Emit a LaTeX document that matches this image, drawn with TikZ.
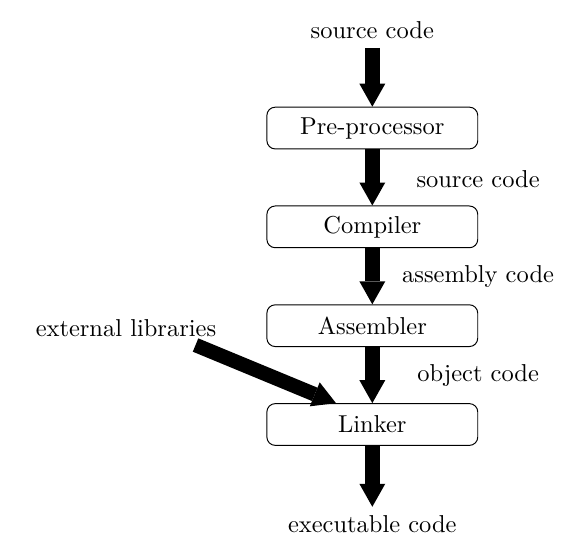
\documentclass[tikz,border=0pt]{standalone}
\usetikzlibrary{positioning, arrows.meta}
\begin{document}
\begin{tikzpicture}[
    % Styles
    stage/.style={% For the tool boxes
        rectangle,
        rounded corners=1.2mm,
        draw,
        minimum width=3.03cm,
        minimum height=0.6cm,
        },
    fatarrow/.style={% Thick black arrows
        line width=5.9pt,
        -{Triangle[length=9.4pt, width=10.6pt, line width=0pt]},
        },
    ]
\useasboundingbox (0,0) rectangle (8.32,8.03);

    % Draw the stages named pre, comp, asm, link
    \node [stage] (pre) at (5.35,6.19) {Pre-processor};
    \node [stage] (comp) at (5.35,4.77) {Compiler};
    \node [stage] (asm) at (5.35,3.35) {Assembler};
    \node [stage] (link) at (5.35,1.93) {Linker};

    % External input and output
    \node[] (src) at (5.35,7.59) {source code};
    \node[] (exe) at (5.35,0.50) {executable code};
    \node[] (extlib) at (1.81,3.32) {external libraries};

    % Labels on the internal arrows
    \node[] (srcl) at (6.87,5.45) {source code};
    \node[] (asml) at (6.87,4.05) {assembly code};
    \node[] (objl) at (6.87,2.63) {object code};

% Connect all
    \draw [fatarrow] (src) -- (pre);
    \draw [fatarrow] (pre) -- (comp);
    \draw [fatarrow] (comp) -- (asm);
    \draw [fatarrow] (asm) -- (link);
    \draw [fatarrow] (link) -- (exe);
    \draw [fatarrow] ([xshift=1cm]extlib.south) -- ([xshift=1cm]link.north west);

\end{tikzpicture}
\end{document}
